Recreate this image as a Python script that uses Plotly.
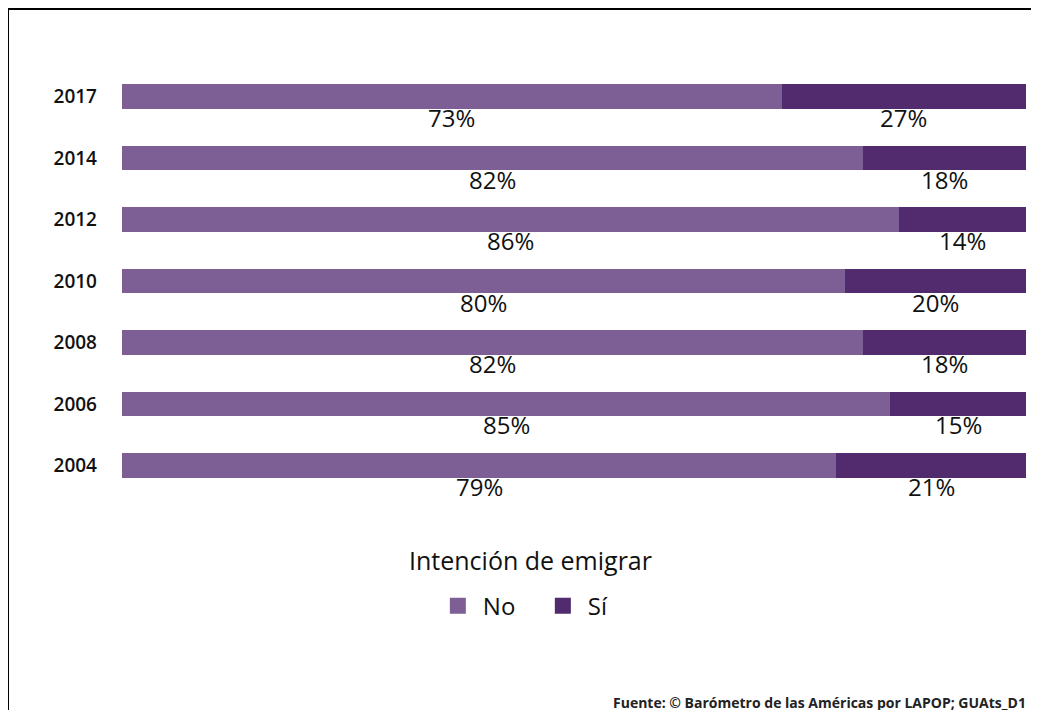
import plotly.graph_objects as go

years = ["2004", "2006", "2008", "2010", "2012", "2014", "2017"]
no_vals = [79, 85, 82, 80, 86, 82, 73]
si_vals = [21, 15, 18, 20, 14, 18, 27]

col_no = "#7D5F96"
col_si = "#522A6E"
font = "Open Sans"

fig = go.Figure()
fig.add_trace(go.Bar(y=years, x=no_vals, name="No", orientation="h", showlegend=False,
                     marker=dict(color=col_no, line=dict(width=0))))
fig.add_trace(go.Bar(y=years, x=si_vals, name="Sí", orientation="h", showlegend=False,
                     marker=dict(color=col_si, line=dict(width=0))))
# legend-only entries with bigger square swatches
for nm, c in (("No", col_no), ("Sí", col_si)):
    fig.add_trace(go.Scatter(x=[None], y=[None], mode="markers", name=nm,
                             marker=dict(symbol="square", size=22, color=c)))

# percentage labels sit under each segment
for i, (n, s) in enumerate(zip(no_vals, si_vals)):
    for cx, v in ((n / 2, n), (n + s / 2, s)):
        fig.add_annotation(x=cx, y=i, text=f"{v}%", showarrow=False,
                           yanchor="middle", yshift=-21,
                           font=dict(size=24, color="#111111", family=font))

# legend title
fig.add_annotation(xref="paper", yref="paper", x=0.452, y=-0.149,
                   xanchor="center", yanchor="middle", showarrow=False,
                   text="Intención de emigrar",
                   font=dict(size=25, color="#111111", family=font, weight=500))

fig.add_annotation(xref="paper", yref="paper", x=1.0022, y=-0.481,
                   xanchor="right", yanchor="middle", showarrow=False,
                   text="<b>Fuente: © Barómetro de las Américas por LAPOP; GUAts_D1</b>",
                   font=dict(size=14, color="#222222", family=font))

# frame lines (top and left)
fig.add_shape(type="line", xref="paper", yref="paper",
              x0=-0.1261, x1=1.03, y0=1.1326, y1=1.1326,
              line=dict(color="black", width=2))
fig.add_shape(type="line", xref="paper", yref="paper",
              x0=-0.1261, x1=-0.1261, y0=1.1326, y1=-0.6,
              line=dict(color="black", width=2))

fig.update_layout(
    width=1039, height=710,
    barmode="stack", bargap=0.6,
    margin=dict(l=114, r=21, t=58, b=222, autoexpand=False),
    paper_bgcolor="white", plot_bgcolor="white",
    font=dict(family=font, color="#111111"),
    xaxis=dict(range=[0, 100], visible=False, fixedrange=True),
    yaxis=dict(type="category", range=[-0.5, 6.5], showgrid=False, zeroline=False,
               showline=False, ticks="", ticklabelstandoff=24, automargin=False,
               tickfont=dict(size=19, family=font, color="#111111", weight=600)),
    showlegend=True,
    legend=dict(orientation="h", x=0.46, xanchor="center", y=-0.256, yanchor="middle",
                font=dict(size=24, family=font, color="#111111", weight=500),
                itemwidth=40, entrywidth=50, entrywidthmode="pixels",
                traceorder="normal"),
)

fig.write_html("out.html")
